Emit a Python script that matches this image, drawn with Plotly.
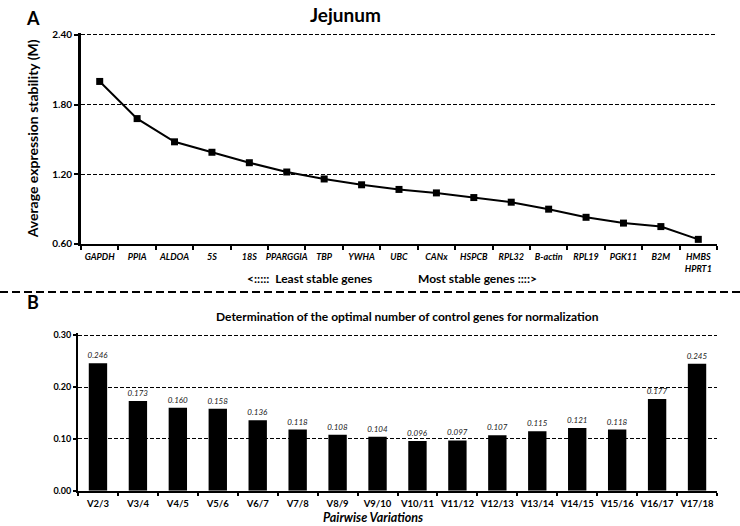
import plotly.graph_objects as go

W, H = 740, 526

genes = ["GAPDH", "PPIA", "ALDOA", "5S", "18S", "PPARGGIA", "TBP", "YWHA", "UBC",
         "CANx", "HSPCB", "RPL32", "B-actin", "RPL19", "PGK11", "B2M", "HMBS<br>HPRT1"]
m_values = [2.00, 1.68, 1.48, 1.39, 1.30, 1.22, 1.16, 1.11, 1.07,
            1.04, 1.00, 0.96, 0.90, 0.83, 0.78, 0.75, 0.64]

pairs = ["V2/3", "V3/4", "V4/5", "V5/6", "V6/7", "V7/8", "V8/9", "V9/10", "V10/11",
         "V11/12", "V12/13", "V13/14", "V14/15", "V15/16", "V16/17", "V17/18"]
v_values = [0.246, 0.173, 0.160, 0.158, 0.136, 0.118, 0.108, 0.104, 0.096,
            0.097, 0.107, 0.115, 0.121, 0.118, 0.177, 0.245]

top_yticks = [0.60, 1.20, 1.80, 2.40]
bot_yticks = [0.00, 0.10, 0.20, 0.30]

FONT = "Lato, 'Open Sans', sans-serif"


def px(x):
    return x / W


def py(y):
    return 1 - y / H


fig = go.Figure()

fig.add_trace(go.Scatter(
    x=genes, y=m_values, mode="lines+markers",
    line=dict(color="black", width=2),
    marker=dict(symbol="square", size=7, color="black"),
    xaxis="x", yaxis="y", showlegend=False, cliponaxis=False,
))

fig.add_trace(go.Bar(
    x=pairs, y=v_values, marker=dict(color="black", line=dict(width=0)),
    width=0.46,
    text=[f"{v:.3f}" for v in v_values], textposition="outside",
    textfont=dict(family=FONT, size=8, color="#222", style="italic"),
    constraintext="none", cliponaxis=False,
    xaxis="x2", yaxis="y2", showlegend=False,
))

axis_common = dict(
    showline=True, linecolor="black", mirror=False, automargin=False,
    ticks="outside", tickcolor="black", zeroline=False,
)

# extend ranges a little so the top grid lines are drawn
top_ext = 0.02
bot_ext = 0.004

fig.update_layout(
    width=W, height=H,
    margin=dict(l=0, r=0, t=0, b=0, autoexpand=False),
    paper_bgcolor="white", plot_bgcolor="white",
    font=dict(family=FONT, color="black"),
    bargap=0.54,
    xaxis=dict(
        domain=[px(81), px(717)], anchor="y", type="category",
        range=[-0.5, 16.5], tickson="boundaries", ticklen=4, tickwidth=2,
        linewidth=2, showgrid=False, tickangle=0, ticklabelstandoff=3,
        tickfont=dict(family=FONT, size=9, style="italic", weight="bold"),
        **axis_common,
    ),
    yaxis=dict(
        domain=[py(244), py(35 - top_ext * 209 / 1.8)], anchor="x",
        range=[0.6, 2.4 + top_ext],
        tickvals=top_yticks, ticktext=[f"{t:.2f}" for t in top_yticks],
        ticklen=4, tickwidth=2, linewidth=3,
        showgrid=True, gridcolor="black", gridwidth=1, griddash="4px,2px",
        tickfont=dict(family=FONT, size=10, weight="bold"),
        title=dict(text="Average expression stability (M)",
                   font=dict(family=FONT, size=14, weight="bold"), standoff=11),
        **axis_common,
    ),
    xaxis2=dict(
        domain=[px(78), px(717)], anchor="y2", type="category",
        range=[-0.5, 15.5], tickson="boundaries", ticklen=3, tickwidth=1.5,
        linewidth=2, showgrid=False, tickangle=0, ticklabelstandoff=3,
        tickfont=dict(family=FONT, size=9.5, weight="bold"),
        **axis_common,
    ),
    yaxis2=dict(
        domain=[py(490.7), py(335.3 - bot_ext * 155.4 / 0.3)], anchor="x2",
        range=[0, 0.30 + bot_ext],
        tickvals=bot_yticks, ticktext=[f"{t:.2f}" for t in bot_yticks],
        ticklen=3, tickwidth=1.5, linewidth=2,
        showgrid=True, gridcolor="black", gridwidth=1, griddash="4px,2px",
        tickfont=dict(family=FONT, size=9, weight="bold"),
        **axis_common,
    ),
)

annotations = [
    dict(text="<b>Jejunum</b>", x=px(345), y=py(14), font=dict(size=19)),
    dict(text="<b>A</b>", x=px(33), y=py(18), font=dict(size=18)),
    dict(text="<b>B</b>", x=px(33), y=py(302), font=dict(size=18)),
    dict(text="<b><:::::  Least stable genes</b>", x=px(309), y=py(278), font=dict(size=12)),
    dict(text="<b>Most stable genes ::::></b>", x=px(477), y=py(278), font=dict(size=12)),
    dict(text="<b>Determination of the optimal number of control genes for normalization</b>",
         x=px(407), y=py(316), font=dict(size=12)),
    dict(text="<b><i>Pairwise Variations</i></b>", x=px(373), y=py(517), font=dict(size=12.5)),
]
for a in annotations:
    a.update(xref="paper", yref="paper", showarrow=False, xanchor="center", yanchor="middle")
    a["font"]["family"] = FONT
    a["font"]["color"] = "black"
fig.update_layout(annotations=annotations)

fig.add_shape(type="line", xref="paper", yref="paper",
              x0=0, x1=1, y0=py(292), y1=py(292),
              line=dict(color="black", width=2, dash="8px,4px"))

fig.write_html(
    "out.html",
    config={"displayModeBar": False},
    post_script="document.body.style.margin='0';document.body.style.padding='0';"
                "document.body.style.overflow='hidden';",
)
